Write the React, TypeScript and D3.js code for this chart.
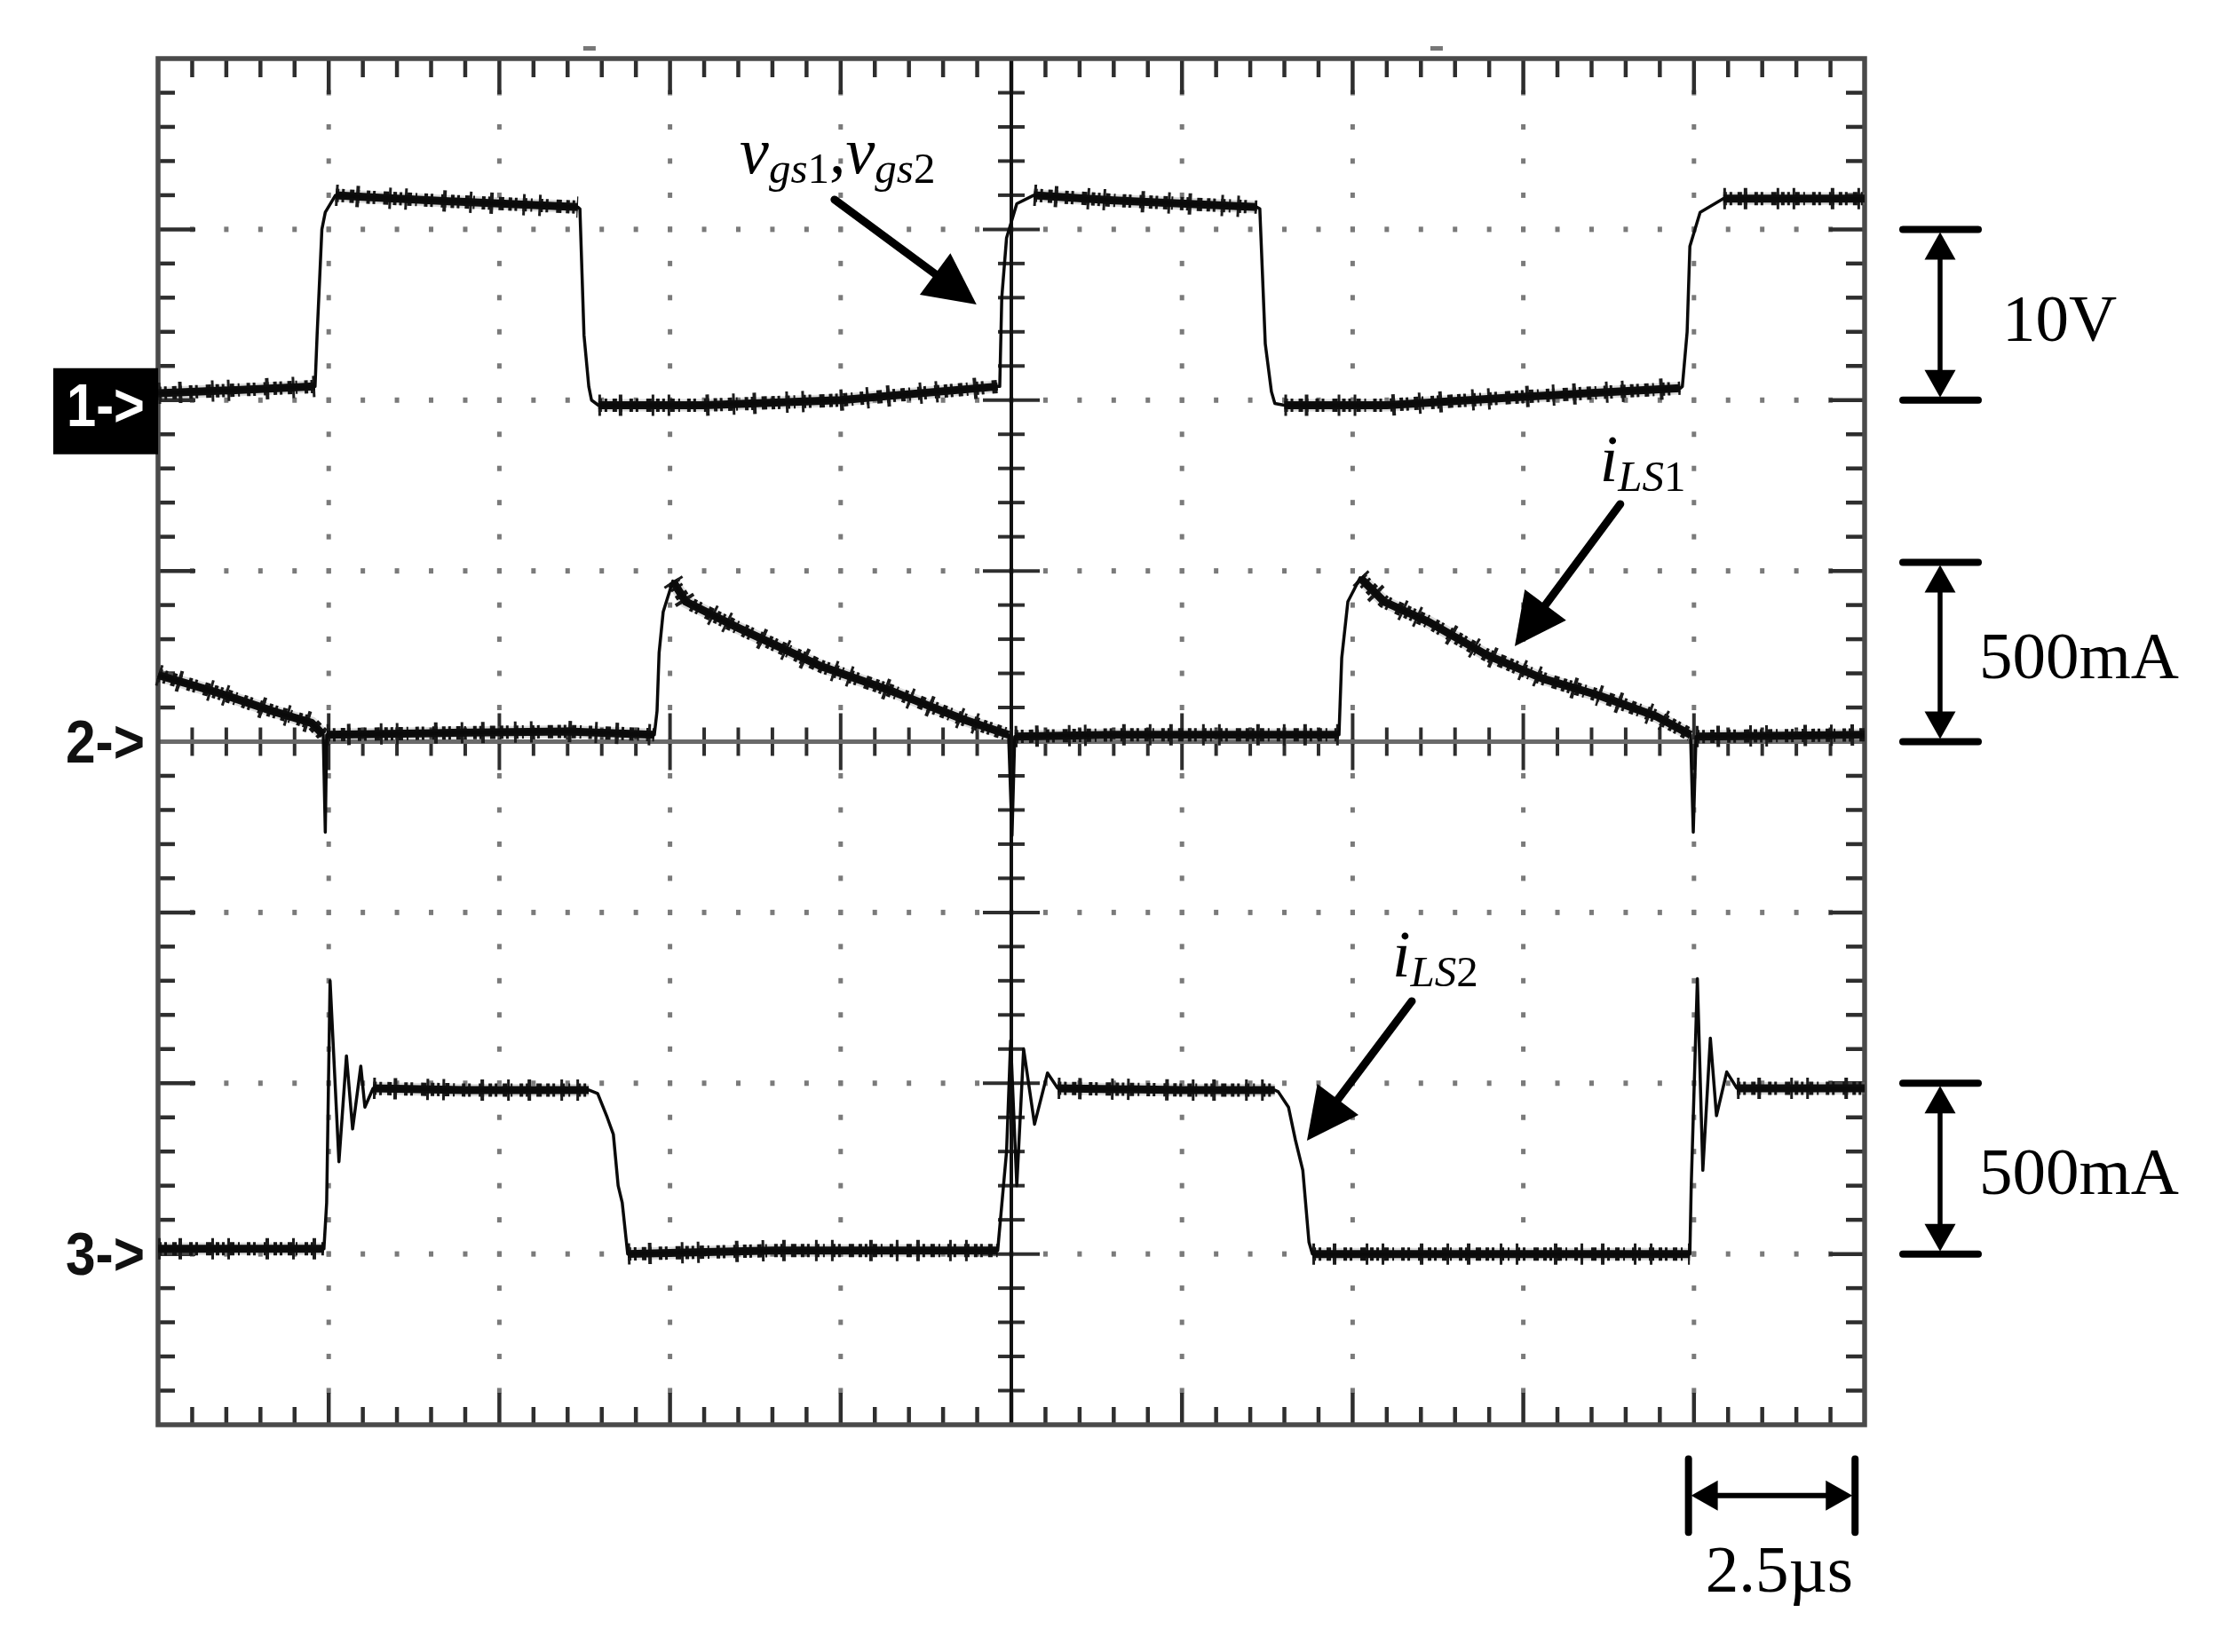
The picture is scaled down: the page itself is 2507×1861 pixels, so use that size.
import React from "react";
import * as d3 from "d3";

const WIDTH = 2507;
const HEIGHT = 1861;

// Oscilloscope screen: 10 x 8 divisions, 2.5 µs/div, 5 minor ticks per div
const TIME_SPAN = 25; // µs
const TIME_PER_DIV = 2.5;
const V_HALF_DIVS = 4;

// Channel 1: v_gs1, v_gs2 (V), 10 V/div, ground marker at +2 div
const ch1Time = [0, 1.2, 2.3, 2.33, 2.4, 2.45, 2.6, 3.0, 4.5, 6.15, 6.18, 6.24, 6.31, 6.35, 6.45, 8.0, 10.0, 12.3, 12.33, 12.36, 12.43, 12.58, 12.83, 14.0, 16.1, 16.14, 16.22, 16.31, 16.36, 16.5, 18.0, 20.0, 22.3, 22.33, 22.4, 22.44, 22.59, 22.93, 24.0, 25.0];
const ch1Value = [0.4, 0.6, 0.8, 3.8, 10.0, 11.0, 12.0, 11.9, 11.6, 11.3, 11.2, 3.8, 0.8, 0.0, -0.3, -0.3, 0.0, 0.8, 0.8, 6.0, 9.5, 11.5, 12.0, 11.7, 11.3, 11.2, 3.3, 0.5, -0.2, -0.3, -0.3, 0.2, 0.7, 0.8, 4.0, 9.0, 11.0, 11.8, 11.8, 11.8];
const ch1Noisy = [[0, 2.3], [2.6, 6.15], [6.45, 12.3], [12.83, 16.1], [16.5, 22.3], [22.93, 25]];

// Channel 2: i_LS1 (mA), 500 mA/div, ground marker at 0 div
const ch2Time = [0, 0.85, 1.67, 2.25, 2.42, 2.45, 2.47, 4.0, 6.0, 7.27, 7.31, 7.34, 7.4, 7.54, 7.73, 8.48, 9.72, 10.72, 11.8, 12.46, 12.51, 12.55, 14.0, 17.3, 17.34, 17.43, 17.61, 17.96, 18.62, 19.45, 20.28, 21.11, 21.94, 22.45, 22.49, 22.53, 25.0];
const ch2Value = [195, 145, 90, 55, 20, -265, 20, 25, 30, 20, 90, 260, 380, 470, 410, 335, 220, 150, 65, 20, -275, 15, 20, 20, 245, 410, 480, 410, 350, 255, 185, 135, 75, 20, -265, 15, 20];
const ch2Noisy = [[0, 2.42], [2.47, 7.27], [7.54, 12.46], [12.55, 17.3], [17.61, 22.45], [22.53, 25]];

// Channel 3: i_LS2 (mA), 500 mA/div, ground marker at -3 div
const ch3Time = [0, 2.43, 2.47, 2.52, 2.65, 2.76, 2.85, 2.97, 3.03, 3.15, 4.5, 6.31, 6.44, 6.58, 6.67, 6.74, 6.8, 6.88, 9.0, 12.3, 12.43, 12.49, 12.58, 12.68, 12.84, 13.03, 13.18, 15.0, 16.36, 16.41, 16.56, 16.66, 16.77, 16.86, 16.91, 19.0, 22.44, 22.46, 22.55, 22.63, 22.74, 22.83, 22.98, 23.13, 25.0];
const ch3Value = [15, 15, 150, 800, 270, 580, 366, 550, 430, 485, 480, 480, 470, 400, 350, 200, 150, 0, 10, 10, 300, 625, 200, 600, 380, 530, 485, 480, 480, 475, 430, 335, 245, 35, 0, 0, 0, 200, 806, 245, 632, 405, 533, 485, 485];
const ch3Noisy = [[0, 2.43], [3.15, 6.31], [6.88, 12.3], [13.18, 16.36], [16.91, 22.44], [23.13, 25]];

const channelNames = ["1", "2", "3"];
const channelOffsets = [2, 0, -3]; // div
const channelPerDiv = [10, 500, 500];

// Scale bar annotations (div spans) and labels
const scaleBarLabels = ["10V", "500mA", "500mA"];
const scaleBarSpans = [[2, 3], [0, 1.05], [-3, -2]];
const timeBarLabel = "2.5µs";
const timeBarSpan = [22.42, 24.86];

// Pointer annotations: [t, div] of label, arrow start, arrow tip
const pointerLabelPos = [[8.52, 3.329], [21.12, 1.526], [18.08, -1.375]];
const pointerStart = [[9.91, 3.174], [21.42, 1.391], [18.366, -1.52]];
const pointerTip = [[11.99, 2.56], [19.875, 0.559], [16.831, -2.336]];

// trigger markers above the screen
const triggerMarks = [6.32, 18.73];

const SERIF = "'Liberation Serif', 'Times New Roman', serif";
const SANS = "'Liberation Sans', Arial, sans-serif";

function isMultiple(v: number, step: number) {
  return Math.abs(v / step - Math.round(v / step)) < 1e-6;
}

export default function App() {
  const x = d3.scaleLinear().domain([0, TIME_SPAN]).range([178, 2100]);
  const y = d3.scaleLinear().domain([-V_HALF_DIVS, V_HALF_DIVS]).range([1605, 66]);

  const x0 = x(0), x1 = x(TIME_SPAN), y0 = y(V_HALF_DIVS), y1 = y(-V_HALF_DIVS);
  const xc = x(TIME_SPAN / 2), yc = y(0);

  const minorT = d3.range(0, TIME_SPAN + 1e-6, TIME_PER_DIV / 5);
  const minorD = d3.range(-V_HALF_DIVS, V_HALF_DIVS + 1e-6, 0.2);
  const majorTInner = d3.range(TIME_PER_DIV, TIME_SPAN - 1e-6, TIME_PER_DIV).filter((t) => Math.abs(t - TIME_SPAN / 2) > 1e-6);
  const majorDInner = d3.range(-3, 3.5, 1).filter((d) => Math.abs(d) > 1e-6);

  const tickColor = "#2e2e2e";
  const dotColor = "#7a7a7a";

  const elements: React.ReactNode[] = [];

  // dotted division lines
  majorTInner.forEach((t, i) => {
    minorD.forEach((d, j) => {
      if (Math.abs(Math.abs(d) - 4) < 1e-6) return;
      elements.push(<rect key={`dv${i}-${j}`} x={x(t) - 2.5} y={y(d) - 3} width={5} height={6} fill={dotColor} />);
    });
  });
  majorDInner.forEach((d, i) => {
    minorT.forEach((t, j) => {
      if (t < 1e-6 || t > TIME_SPAN - 1e-6) return;
      elements.push(<rect key={`dh${i}-${j}`} x={x(t) - 2.5} y={y(d) - 3} width={5} height={6} fill={dotColor} />);
    });
  });

  // border ticks (top / bottom / center horizontal)
  minorT.forEach((t, j) => {
    if (t < 1e-6 || t > TIME_SPAN - 1e-6) return;
    const major = isMultiple(t, TIME_PER_DIV);
    const xx = x(t);
    elements.push(<line key={`tt${j}`} x1={xx} x2={xx} y1={y0} y2={y0 + (major ? 40 : 21)} stroke={tickColor} strokeWidth={4.5} />);
    elements.push(<line key={`tb${j}`} x1={xx} x2={xx} y1={y1} y2={y1 - (major ? 36 : 20)} stroke={tickColor} strokeWidth={4.5} />);
    elements.push(<line key={`tc${j}`} x1={xx} x2={xx} y1={yc - (major ? 32 : 16)} y2={yc + (major ? 32 : 16)} stroke={tickColor} strokeWidth={4} />);
  });
  // border ticks (left / right / center vertical)
  minorD.forEach((d, j) => {
    if (Math.abs(Math.abs(d) - 4) < 1e-6) return;
    const major = isMultiple(d, 1);
    const yy = y(d);
    elements.push(<line key={`tl${j}`} x1={x0} x2={x0 + (major ? 42 : 19)} y1={yy} y2={yy} stroke={tickColor} strokeWidth={4.5} />);
    elements.push(<line key={`tr${j}`} x1={x1} x2={x1 - (major ? 40 : 21)} y1={yy} y2={yy} stroke={tickColor} strokeWidth={4.5} />);
    elements.push(<line key={`tv${j}`} x1={xc - (major ? 32 : 15)} x2={xc + (major ? 32 : 15)} y1={yy} y2={yy} stroke={tickColor} strokeWidth={4} />);
  });

  // channels
  const chTimes = [ch1Time, ch2Time, ch3Time];
  const chValues = [ch1Value, ch2Value, ch3Value];
  const chNoisy = [ch1Noisy, ch2Noisy, ch3Noisy];

  const traces = channelNames.map((name, ci) => {
    const pts: [number, number][] = chTimes[ci].map((t, k) => [t, chValues[ci][k]]);
    const yOf = (v: number) => y(channelOffsets[ci] + v / channelPerDiv[ci]);
    const line = d3.line<[number, number]>().x((d) => x(d[0])).y((d) => yOf(d[1]));
    const inNoisy = (t: number) => chNoisy[ci].some((r) => t >= r[0] - 1e-6 && t <= r[1] + 1e-6);
    const thick = d3
      .line<[number, number]>()
      .defined((d) => inNoisy(d[0]))
      .x((d) => x(d[0]))
      .y((d) => yOf(d[1]));
    const dThick = thick(pts) || "";
    return (
      <g key={`ch${name}`}>
        {/* trace thickened by acquisition noise on the flat/ramp parts */}
        <path d={dThick} fill="none" stroke="#8a8a8a" strokeWidth={14} strokeOpacity={0.3} />
        <path d={dThick} fill="none" stroke="#151515" strokeWidth={15} strokeDasharray="4 3 3 6 5 4 2 8 4 3 3 9 6 5" />
        <path d={dThick} fill="none" stroke="#1c1c1c" strokeWidth={24} strokeDasharray="3 20 4 33 3 15 3 40 4 26" />
        <path d={dThick} fill="none" stroke="#0d0d0d" strokeWidth={9} strokeLinejoin="round" />
        <path d={line(pts) || ""} fill="none" stroke="#0a0a0a" strokeWidth={3.5} strokeLinejoin="round" />
      </g>
    );
  });

  // channel markers
  const markers = channelNames.map((name, ci) => {
    const yy = y(channelOffsets[ci]);
    if (ci === 0) {
      return (
        <g key={`m${name}`}>
          <rect x={x0 - 118} y={yy - 36} width={118} height={97} fill="#000" />
          <text x={75} y={yy + 29} fill="#fff" fontFamily={SANS} fontWeight="bold" fontSize={68} textLength={88} lengthAdjust="spacingAndGlyphs">{`${name}->`}</text>
        </g>
      );
    }
    return (
      <text key={`m${name}`} x={74} y={yy + 23} fill="#111" fontFamily={SANS} fontWeight="bold" fontSize={68} textLength={89} lengthAdjust="spacingAndGlyphs">{`${name}->`}</text>
    );
  });

  // vertical scale bars on the right
  const barL = x1 + 43, barR = x1 + 128, shaftX = x1 + 85;
  const scaleBars = scaleBarLabels.map((label, i) => {
    const yt = y(scaleBarSpans[i][1]);
    const yb = y(scaleBarSpans[i][0]);
    const mid = (yt + yb) / 2;
    const hh = 31, hw = 17.5;
    return (
      <g key={`sb${i}`}>
        <line x1={barL} x2={barR} y1={yt} y2={yt} stroke="#000" strokeWidth={8} strokeLinecap="round" />
        <line x1={barL} x2={barR} y1={yb} y2={yb} stroke="#000" strokeWidth={8} strokeLinecap="round" />
        <line x1={shaftX} x2={shaftX} y1={yt + hh} y2={yb - hh} stroke="#000" strokeWidth={5.5} />
        <polygon points={`${shaftX},${yt + 3} ${shaftX - hw},${yt + 3 + hh} ${shaftX + hw},${yt + 3 + hh}`} fill="#000" />
        <polygon points={`${shaftX},${yb - 3} ${shaftX - hw},${yb - 3 - hh} ${shaftX + hw},${yb - 3 - hh}`} fill="#000" />
        <text x={i === 0 ? x1 + 155 : x1 + 129} y={mid + 29} fontFamily={SERIF} fontSize={75} fill="#000">{label}</text>
      </g>
    );
  });

  // time scale bar
  const tbL = x(timeBarSpan[0]), tbR = x(timeBarSpan[1]);
  const tbY = y(-4.415), tbTop = y(-4.2), tbBot = y(-4.63);
  const timeBar = (
    <g>
      <line x1={tbL} x2={tbL} y1={tbTop} y2={tbBot} stroke="#000" strokeWidth={8} strokeLinecap="round" />
      <line x1={tbR} x2={tbR} y1={tbTop} y2={tbBot} stroke="#000" strokeWidth={8} strokeLinecap="round" />
      <line x1={tbL + 30} x2={tbR - 30} y1={tbY} y2={tbY} stroke="#000" strokeWidth={6} />
      <polygon points={`${tbL + 3},${tbY} ${tbL + 33},${tbY - 17} ${tbL + 33},${tbY + 17}`} fill="#000" />
      <polygon points={`${tbR - 3},${tbY} ${tbR - 33},${tbY - 17} ${tbR - 33},${tbY + 17}`} fill="#000" />
      <text x={x(22.67)} y={y(-4.977)} fontFamily={SERIF} fontSize={75} fill="#000">{timeBarLabel}</text>
    </g>
  );

  // pointer arrows
  const pointers = pointerStart.map((s, i) => {
    const sx = x(s[0]), sy = y(s[1]);
    const tx = x(pointerTip[i][0]), ty = y(pointerTip[i][1]);
    const len = Math.hypot(tx - sx, ty - sy);
    const ux = (tx - sx) / len, uy = (ty - sy) / len;
    const hl = 58, hw = 29;
    const bx = tx - ux * hl, by = ty - uy * hl;
    const px = -uy, py = ux;
    return (
      <g key={`pa${i}`}>
        <line x1={sx} y1={sy} x2={bx + ux * 6} y2={by + uy * 6} stroke="#000" strokeWidth={9} strokeLinecap="round" />
        <polygon points={`${tx},${ty} ${bx + px * hw},${by + py * hw} ${bx - px * hw},${by - py * hw}`} fill="#000" />
      </g>
    );
  });

  const sub = 11;
  const pointerLabels = [
    <text key="pl0" x={x(pointerLabelPos[0][0])} y={y(pointerLabelPos[0][1])} fontFamily={SERIF} fontSize={74} fill="#000">
      <tspan fontStyle="italic">v</tspan>
      <tspan fontStyle="italic" fontSize={49} dy={sub}>gs</tspan>
      <tspan fontSize={49}>1</tspan>
      <tspan dy={-sub}>,</tspan>
      <tspan fontStyle="italic">v</tspan>
      <tspan fontStyle="italic" fontSize={49} dy={sub}>gs</tspan>
      <tspan fontSize={49}>2</tspan>
    </text>,
    <text key="pl1" x={x(pointerLabelPos[1][0])} y={y(pointerLabelPos[1][1])} fontFamily={SERIF} fontSize={74} fill="#000">
      <tspan fontStyle="italic">i</tspan>
      <tspan fontStyle="italic" fontSize={49} dy={sub}>LS</tspan>
      <tspan fontSize={49}>1</tspan>
    </text>,
    <text key="pl2" x={x(pointerLabelPos[2][0])} y={y(pointerLabelPos[2][1])} fontFamily={SERIF} fontSize={74} fill="#000">
      <tspan fontStyle="italic">i</tspan>
      <tspan fontStyle="italic" fontSize={49} dy={sub}>LS</tspan>
      <tspan fontSize={49}>2</tspan>
    </text>,
  ];

  return (
    <svg
      width={WIDTH}
      height={HEIGHT}
      viewBox={`0 0 ${WIDTH} ${HEIGHT}`}
      style={{ position: "absolute", left: 0, top: 0, background: "#fff" }}
    >
      <rect x={0} y={0} width={WIDTH} height={HEIGHT} fill="#fff" />
      {triggerMarks.map((t, i) => (
        <rect key={`tm${i}`} x={x(t) - 7} y={y0 - 14} width={14} height={5} fill="#777" />
      ))}
      {elements}
      {/* center cross */}
      <line x1={x0} x2={x1} y1={yc} y2={yc} stroke="#6a6a6a" strokeWidth={5} />
      <line x1={xc} x2={xc} y1={y0} y2={y1} stroke="#111" strokeWidth={4} />
      {/* border */}
      <rect x={x0} y={y0} width={x1 - x0} height={y1 - y0} fill="none" stroke="#4a4a4a" strokeWidth={5.5} />
      {traces}
      {markers}
      {scaleBars}
      {timeBar}
      {pointers}
      {pointerLabels}
    </svg>
  );
}
